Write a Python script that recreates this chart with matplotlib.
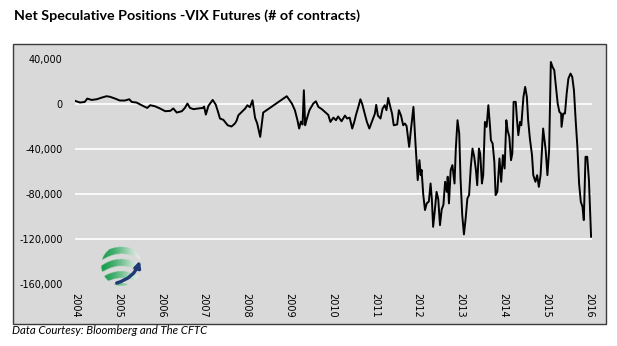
import numpy as np
import matplotlib
matplotlib.use("Agg")
import matplotlib.pyplot as plt
from matplotlib.patches import Rectangle, FancyArrowPatch

# ===== data (decimal year, net contracts) =====
years = [
    2004.00, 2004.11, 2004.22, 2004.28, 2004.38, 2004.50, 2004.62, 2004.73, 2004.81, 2004.93,
    2005.04, 2005.16, 2005.26, 2005.32, 2005.43, 2005.55, 2005.68, 2005.75, 2005.86, 2005.98,
    2006.10, 2006.22, 2006.29, 2006.37, 2006.49, 2006.56, 2006.62, 2006.68, 2006.76, 2006.87,
    2006.98, 2007.01, 2007.05, 2007.11, 2007.21, 2007.28, 2007.33, 2007.38, 2007.46, 2007.56,
    2007.65, 2007.73, 2007.77, 2007.81, 2007.89, 2007.97, 2008.02, 2008.08, 2008.14, 2008.20,
    2008.25, 2008.32, 2008.39, 2008.86, 2008.94, 2008.98, 2009.06, 2009.13, 2009.19, 2009.23,
    2009.27, 2009.31, 2009.34, 2009.37, 2009.40, 2009.47, 2009.56, 2009.62, 2009.68, 2009.76,
    2009.83, 2009.91, 2009.96, 2010.03, 2010.09, 2010.14, 2010.22, 2010.30, 2010.35, 2010.41,
    2010.47, 2010.52, 2010.56, 2010.62, 2010.66, 2010.70, 2010.76, 2010.81, 2010.87, 2010.93,
    2011.00, 2011.03, 2011.07, 2011.13, 2011.18, 2011.23, 2011.27, 2011.31, 2011.36, 2011.40,
    2011.44, 2011.52, 2011.56, 2011.61, 2011.66, 2011.70, 2011.74, 2011.80, 2011.84, 2011.90,
    2011.95, 2012.00, 2012.04, 2012.07, 2012.09, 2012.13, 2012.17, 2012.21, 2012.26, 2012.30,
    2012.33, 2012.36, 2012.40, 2012.44, 2012.48, 2012.52, 2012.56, 2012.60, 2012.64, 2012.68,
    2012.70, 2012.73, 2012.77, 2012.81, 2012.86, 2012.89, 2012.93, 2012.97, 2013.00, 2013.04,
    2013.08, 2013.12, 2013.16, 2013.20, 2013.24, 2013.28, 2013.32, 2013.36, 2013.39, 2013.43,
    2013.46, 2013.50, 2013.53, 2013.57, 2013.61, 2013.65, 2013.69, 2013.71, 2013.75, 2013.79,
    2013.82, 2013.86, 2013.91, 2013.95, 2013.99, 2014.03, 2014.07, 2014.10, 2014.14, 2014.18,
    2014.21, 2014.24, 2014.29, 2014.32, 2014.35, 2014.39, 2014.42, 2014.47, 2014.51, 2014.55,
    2014.58, 2014.62, 2014.67, 2014.70, 2014.75, 2014.79, 2014.83, 2014.87, 2014.93, 2014.99,
    2015.03, 2015.07, 2015.11, 2015.15, 2015.19, 2015.23, 2015.27, 2015.31, 2015.35, 2015.36,
    2015.40, 2015.44, 2015.48, 2015.52, 2015.57, 2015.61, 2015.65, 2015.69, 2015.73, 2015.77,
    2015.81, 2015.85, 2015.88, 2015.92, 2015.96, 2016.00, 2016.05,
]
net_positions = [
    2300, 900, 1400, 4400, 3200, 3800, 5300, 6500, 6000, 4400,
    2700, 2700, 3800, 1400, 900, -1500, -3900, -1500, -2400, -4400,
    -6800, -6500, -4400, -8000, -6800, -3900, 0, -3900, -5000, -4400,
    -3900, -2700, -9800, -2100, 3200, -900, -6800, -13300, -14500, -19300,
    -20400, -17700, -15100, -10400, -7400, -4400, -1500, -3300, 2900, -12700,
    -17700, -29600, -8000, 4400, 6500, 4400, 0, -5900, -14800, -22200,
    -16000, -18600, 11800, -19300, -14800, -5900, 0, 2000, -3000, -5000,
    -7400, -10100, -16300, -12500, -14800, -11500, -15700, -10700, -13300, -12500,
    -22200, -16000, -9800, -2000, 3800, 0, -8900, -16000, -22200, -16000,
    -8900, -1200, -10700, -13300, -4400, -1500, -5900, 5000, -3000, -8900,
    -19300, -18600, -5900, -10700, -19300, -17700, -20000, -38500, -23700, -3000,
    -37000, -68000, -50300, -63600, -59000, -81300, -94600, -88700, -87000, -71000,
    -85000, -109500, -94600, -78400, -85000, -108000, -94000, -90000, -69500, -78400,
    -65000, -88700, -59200, -54700, -71000, -40000, -14800, -26700, -66500, -99100,
    -116200, -102000, -84300, -81300, -56200, -40000, -47300, -59100, -72500, -40000,
    -44400, -71000, -63600, -16300, -20700, -1500, -20700, -32600, -35500, -51800,
    -81300, -78400, -48800, -69500, -45800, -57700, -14800, -23700, -29600, -50300,
    -44400, 1500, 1500, -14800, -28100, -16300, -19300, 5900, 14800, 5900,
    -14800, -31000, -45800, -63600, -69500, -63600, -74000, -63600, -22200, -41400,
    -63600, -41400, 36900, 32500, 29600, 14800, 0, -7400, -8900, -20700,
    -8900, -8900, 8900, 22200, 26600, 23700, 11800, -14800, -38500, -71000,
    -87300, -91700, -103500, -47300, -47300, -68000, -118300,
]

year_ticks = list(range(2004, 2017))
y_ticks = [40000, 0, -40000, -80000, -120000, -160000]
y_tick_labels = ["40,000", "0", "-40,000", "-80,000", "-120,000", "-160,000"]

W, H = 617, 346
fig = plt.figure(figsize=(W / 100, H / 100), dpi=100)

# grey chart area with dark frame
fig.patches.append(Rectangle((13 / W, 1 - 324 / H), (605.5 - 13) / W, (324 - 44) / H,
                             transform=fig.transFigure, facecolor="#d9d9d9",
                             edgecolor="#3c3c3c", linewidth=1.0, zorder=-10))

ax = fig.add_axes([75.3 / W, 1 - 283.7 / H, (591.5 - 75.3) / W, (283.7 - 58.5) / H])
ax.set_zorder(1)
ax.set_facecolor("none")
for s in ax.spines.values():
    s.set_visible(False)

for v in y_ticks[:-1]:
    ax.axhline(v, color="white", linewidth=1.2, zorder=1)

ax.plot(years, net_positions, color="black", linewidth=1.4, zorder=3)

ax.set_xlim(2004, 2016.06)
ax.set_ylim(-160000, 40000)
ax.set_xticks(year_ticks)
ax.set_xticklabels([str(y) for y in year_ticks], rotation=-90, fontsize=7,
                   family="DejaVu Sans")
ax.set_yticks(y_ticks)
ax.set_yticklabels(y_tick_labels, fontsize=7, family="DejaVu Sans")
ax.tick_params(axis="both", length=0)
ax.tick_params(axis="y", pad=9)
ax.tick_params(axis="x", pad=7)

# ===== small striped globe logo =====
lax = fig.add_axes([99 / W, 1 - 288 / H, 45 / W, 45 / H])
lax.set_zorder(2)
lax.axis("off")
gx, gy = np.meshgrid(np.linspace(-1, 1, 90), np.linspace(1, -1, 90))
rr = np.hypot(gx, gy)
band = np.sin((gy + 0.35 * gx ** 2) * 11) > -0.2
fade = np.clip((gx + 1.0) / 1.9, 0, 1)
img = np.ones((90, 90, 4))
dark = np.array([0.10, 0.62, 0.30])
for k in range(3):
    img[..., k] = dark[k] + (1 - dark[k]) * fade ** 1.6
img[..., 3] = np.where((rr < 0.95) & band, 1.0, 0.0) * (1 - 0.55 * fade ** 3)
lax.imshow(img, extent=(-1, 1, -1, 1), interpolation="bilinear")
lax.add_patch(FancyArrowPatch((-0.35, -0.85), (0.9, 0.35),
                              connectionstyle="arc3,rad=0.3", arrowstyle="-|>",
                              mutation_scale=9, color="#1f3b73", linewidth=2.4))
lax.set_xlim(-1.05, 1.05)
lax.set_ylim(-1.05, 1.05)

fig.text(14 / W, 1 - 15.7 / H, "Net Speculative Positions -VIX Futures (# of contracts)",
         fontsize=10.3, fontweight="bold", family="Lato", va="center", ha="left")
fig.text(12 / W, 1 - 331 / H, "Data Courtesy: Bloomberg and The CFTC",
         fontsize=8.2, style="italic", family="Lato", va="center", ha="left")

fig.savefig("out.png", dpi=100)
